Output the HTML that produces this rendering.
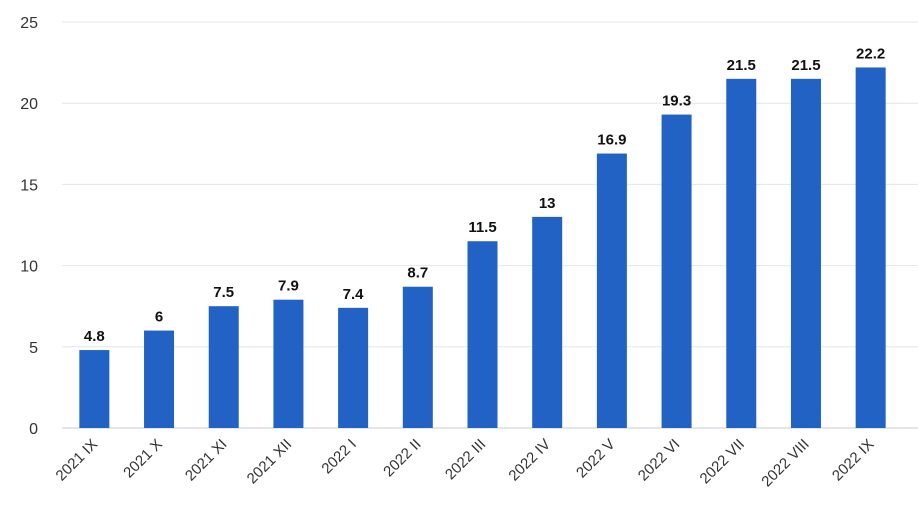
<!DOCTYPE html>
<html><head><meta charset="utf-8"><style>
body{margin:0;background:#fff;}
svg{display:block;font-family:"Liberation Sans",sans-serif;}
</style></head><body>
<svg id="chart" width="918" height="520" xmlns="http://www.w3.org/2000/svg"></svg>
<script>
const categories=["2021 IX","2021 X","2021 XI","2021 XII","2022 I","2022 II","2022 III","2022 IV","2022 V","2022 VI","2022 VII","2022 VIII","2022 IX"];
const values=[4.8,6,7.5,7.9,7.4,8.7,11.5,13,16.9,19.3,21.5,21.5,22.2];
const valueLabels=["4.8","6","7.5","7.9","7.4","8.7","11.5","13","16.9","19.3","21.5","21.5","22.2"];
const yTicks=[0,5,10,15,20,25];
const svg=document.getElementById('chart');
const NS="http://www.w3.org/2000/svg";
const x0=62,x1=903,yBase=428,yTop=22,yMax=25;
const band=(x1-x0)/categories.length;
const y=v=>yBase-(v/yMax)*(yBase-yTop);
const xc=i=>x0+band*(i+0.5);
function mk(t,a){const e=document.createElementNS(NS,t);for(const k in a)e.setAttribute(k,a[k]);svg.appendChild(e);return e;}
yTicks.forEach(t=>{
  const g=mk('line',{x1:x0,x2:x1+15,y1:y(t),y2:y(t),stroke:t===0?'#c5ccd6':'#e3e6ea','stroke-width':1});
  
  
  const l=mk('text',{x:38,y:y(t)+6,'text-anchor':'end','font-size':16,fill:'#333'});
  l.textContent=t;
  
  
});
categories.forEach((c,i)=>{
  const bw=30;
  const r=mk('rect',{x:xc(i)-bw/2,y:y(values[i]),width:bw,height:yBase-y(values[i]),fill:'#2162c4'});
  
  
  const v=mk('text',{x:xc(i),y:y(values[i])-9,'text-anchor':'middle','font-size':15,'font-weight':'bold',fill:'#111'});
  v.textContent=valueLabels[i];
  
  
  const tx=xc(i)+4,ty=yBase+17;
  const l=mk('text',{x:tx,y:ty,'text-anchor':'end','font-size':15,fill:'#333',transform:`rotate(-45 ${tx} ${ty})`});
  l.textContent=c;
  
  
});
</script>
</body></html>
